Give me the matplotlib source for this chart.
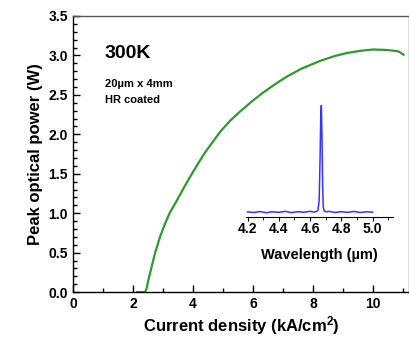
import matplotlib
matplotlib.use("Agg")
import matplotlib.pyplot as plt
from matplotlib.ticker import MultipleLocator

plt.rcParams['font.family'] = ['Liberation Sans', 'DejaVu Sans']
plt.rcParams['font.weight'] = 'bold'
plt.rcParams['axes.labelweight'] = 'bold'
plt.rcParams['mathtext.fontset'] = 'custom'
plt.rcParams['mathtext.bf'] = 'Liberation Sans:bold'
plt.rcParams['mathtext.rm'] = 'Liberation Sans:bold'
plt.rcParams['mathtext.default'] = 'bf'

# L-I curve, 300K
current = [2.14, 2.40, 2.45, 2.51, 2.62, 2.73, 2.90, 3.07, 3.23, 3.46, 3.66, 3.90,
           4.12, 4.40, 4.90, 5.23, 5.57, 6.00, 6.34, 6.75, 7.12, 7.60, 8.23, 8.70,
           9.12, 9.60, 10.01, 10.40, 10.68, 10.85, 11.01]
power = [0.0, 0.0, 0.04, 0.15, 0.32, 0.49, 0.70, 0.87, 1.01, 1.16, 1.30, 1.46,
         1.60, 1.77, 2.03, 2.17, 2.29, 2.43, 2.53, 2.64, 2.73, 2.83, 2.93, 2.99,
         3.03, 3.06, 3.075, 3.07, 3.06, 3.05, 3.01]

# emission spectrum (inset), normalised
wavelength = [4.20, 4.24, 4.28, 4.32, 4.36, 4.40, 4.44, 4.48, 4.52, 4.56, 4.60, 4.62,
              4.64, 4.650, 4.658, 4.664, 4.668, 4.672, 4.676, 4.680, 4.684, 4.690,
              4.70, 4.72, 4.76, 4.80, 4.84, 4.88, 4.92, 4.96, 5.00]
intensity = [0.045, 0.040, 0.048, 0.038, 0.046, 0.041, 0.050, 0.039, 0.047, 0.042, 0.050, 0.044,
             0.048, 0.060, 0.150, 0.550, 0.900, 1.000, 0.720, 0.300, 0.090, 0.055,
             0.046, 0.050, 0.040, 0.047, 0.041, 0.049, 0.040, 0.046, 0.043]

fig = plt.figure(figsize=(4.1, 3.4), dpi=100)
ax = fig.add_axes([0.178, 0.141, 0.82, 0.812])
ax.plot(current, power, color='#2e9a2e', lw=1.6)
ax.set_xlim(0, 11.2)
ax.set_ylim(0, 3.5)
ax.xaxis.set_major_locator(MultipleLocator(2))
ax.xaxis.set_minor_locator(MultipleLocator(1))
ax.yaxis.set_minor_locator(MultipleLocator(0.1))
ax.set_yticks([0, 0.5, 1.0, 1.5, 2.0, 2.5, 3.0, 3.5])
ax.set_yticklabels(['0.0', '0.5', '1.0', '1.5', '2.0', '2.5', '3.0', '3.5'])
ax.tick_params(which='both', direction='in', top=False, right=False, labelsize=10, width=1)
ax.tick_params(which='major', length=5)
ax.tick_params(which='minor', length=3)
for s in ax.spines.values():
    s.set_linewidth(1)
ax.spines['top'].set_color('#555555')
ax.spines['right'].set_color('#555555')
ax.set_xlabel('Current density (kA/cm$^{2}$)', fontsize=12, labelpad=2)
ax.set_ylabel('Peak optical power (W)', fontsize=12, labelpad=4)

ax.text(0.095, 0.865, '300K', transform=ax.transAxes, fontsize=14, va='center')
ax.text(0.095, 0.755, '20µm x 4mm', transform=ax.transAxes, fontsize=8, va='center')
ax.text(0.095, 0.697, 'HR coated', transform=ax.transAxes, fontsize=8, va='center')

ins = fig.add_axes([0.6, 0.362, 0.3585, 0.344])
ins.plot(wavelength, intensity, color='#3535ff', lw=1.1)
ins.set_xlim(4.19, 5.13)
ins.set_ylim(0, 1.05)
ins.patch.set_alpha(0)
for side in ['top', 'right', 'left']:
    ins.spines[side].set_visible(False)
ins.set_yticks([])
ins.xaxis.set_major_locator(MultipleLocator(0.2))
ins.xaxis.set_minor_locator(MultipleLocator(0.1))
ins.tick_params(which='both', direction='out', labelsize=10, pad=1)
ins.tick_params(which='major', length=3)
ins.tick_params(which='minor', length=2)
ins.set_xlabel('Wavelength (µm)', fontsize=10.5, labelpad=8)

fig.savefig('out.png', dpi=100)
